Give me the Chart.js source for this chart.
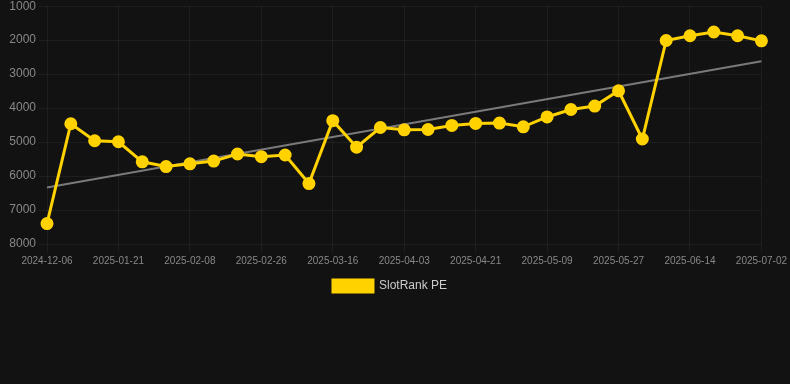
<!DOCTYPE html>
<html>
<head>
<meta charset="utf-8">
<script src="https://cdn.jsdelivr.net/npm/chart.js@4"></script>
<style>
html,body{margin:0;padding:0;background:#121212;overflow:hidden;}
#wrap{position:relative;width:790px;height:306px;margin-top:-4px;}
</style>
</head>
<body>
<div id="wrap"><canvas id="c"></canvas></div>
<script>
const dates = ["2024-12-06","2025-01-09","2025-01-15","2025-01-21","2025-01-27","2025-02-02","2025-02-08","2025-02-14","2025-02-20","2025-02-26","2025-03-04","2025-03-10","2025-03-16","2025-03-22","2025-03-28","2025-04-03","2025-04-09","2025-04-15","2025-04-21","2025-04-27","2025-05-03","2025-05-09","2025-05-15","2025-05-21","2025-05-27","2025-06-02","2025-06-08","2025-06-14","2025-06-20","2025-06-26","2025-07-02"];
const slotRankPE = [7400,4460,4960,4990,5580,5720,5640,5560,5350,5430,5380,6220,4370,5150,4570,4640,4630,4510,4450,4440,4550,4260,4040,3940,3490,4910,2010,1870,1760,1870,2020];
const trendStart = 6340;
const trendEnd = 2620;
const yTicks = [1000,2000,3000,4000,5000,6000,7000,8000];

const trend = dates.map((d,i)=> i===0 ? trendStart : (i===dates.length-1 ? trendEnd : null));

new Chart(document.getElementById('c'), {
  type: 'line',
  data: {
    labels: dates,
    datasets: [
      {
        label: 'SlotRank PE',
        data: slotRankPE,
        borderColor: '#FFD200',
        backgroundColor: '#FFD200',
        borderWidth: 3,
        pointRadius: 5,
        pointBackgroundColor: '#FFD200',
        pointBorderColor: '#FFD200',
        tension: 0,
        order: 1
      },
      {
        label: 'trend',
        data: trend,
        borderColor: '#7a7a7a',
        borderWidth: 2,
        pointRadius: 0,
        spanGaps: true,
        order: 2
      }
    ]
  },
  options: {
    responsive: true,
    maintainAspectRatio: false,
    animation: false,
    layout: { padding: { right: 10 } },
    plugins: {
      legend: {
        position: 'bottom',
        labels: {
          color: '#cccccc',
          font: { family: 'Liberation Sans, Arial, sans-serif', size: 12 },
          boxWidth: 40,
          boxHeight: 12,
          filter: (item) => item.text !== 'trend'
        }
      },
      tooltip: { enabled: false }
    },
    scales: {
      x: {
        offset: false,
        grid: { color: 'rgba(255,255,255,0.05)', drawTicks: true },
        border: { display: false },
        ticks: {
          color: '#888888',
          font: { family: 'Liberation Sans, Arial, sans-serif', size: 10 },
          maxRotation: 0,
          autoSkip: true,
          callback: function(v, i) { return i % 3 === 0 ? this.getLabelForValue(v) : null; }
        }
      },
      y: {
        reverse: true,
        min: 1000,
        max: 8000,
        afterBuildTicks: (axis) => { axis.ticks = yTicks.map(v => ({ value: v })); },
        afterFit: (axis) => { axis.width = 47; },
        grid: { color: 'rgba(255,255,255,0.05)' },
        border: { display: false },
        ticks: {
          color: '#888888',
          font: { family: 'Liberation Sans, Arial, sans-serif', size: 12 },
          callback: (v) => String(v)
        }
      }
    }
  }
});
</script>
</body>
</html>
